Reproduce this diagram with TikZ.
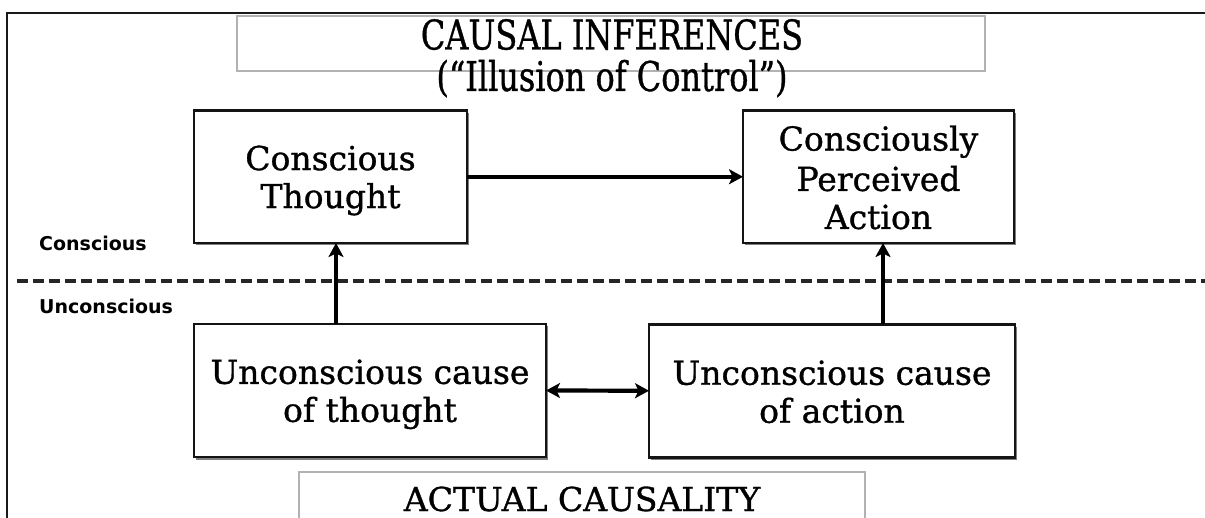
\documentclass[tikz,border=0pt]{standalone}
\usepackage{fontspec}
\setmainfont{DejaVu Serif}
\newfontfamily\boxfont[FakeBold=1.0]{DejaVu Serif}
\newfontfamily\titlefont[FakeStretch=0.78,FakeBold=0.8]{DejaVu Serif}
\newfontfamily\labelfont{DejaVu Sans}
\usetikzlibrary{arrows.meta,shadows}
% line strut: 32pt above, 6pt below the baseline (matches the 38pt line pitch)
\newcommand\ls{\rule[-6pt]{0pt}{38pt}}

\begin{document}
\begin{tikzpicture}[x=1pt,y=-1pt,
  box/.style={draw=black!92, line width=2.8pt, fill=white, inner sep=0pt, outer sep=0pt,
    align=center, font=\boxfont\fontsize{33}{38}\selectfont,
    drop shadow={shadow xshift=1.5pt, shadow yshift=-2.5pt, fill=black, opacity=0.5}},
  graybox/.style={draw=black!30, line width=2pt, fill=white, inner sep=0pt, outer sep=0pt,
    align=center, font=\boxfont\fontsize{33}{38}\selectfont,
    drop shadow={shadow xshift=0.8pt, shadow yshift=-1.5pt, fill=black, opacity=0.2}},
  lab/.style={inner sep=0pt, anchor=west, font=\labelfont\bfseries\fontsize{19}{22}\selectfont},
  tip/.tip={Stealth[length=14pt,width=15pt,inset=3.5pt]},
  arr/.style={line width=4.2pt, -tip},
  biarr/.style={line width=4.2pt, tip-tip}
]
\useasboundingbox (0,0) rectangle (1205,518);
\clip (0,0) rectangle (1205,518);

% outer frame (open to the right and bottom)
\draw[line width=2.4pt, black!90] (7,540) -- (7,13) -- (1230,13);

% heading boxes
\node[graybox, minimum width=748pt, minimum height=55pt] (tb) at (611,43.5) {};
\node[inner sep=0pt, align=center, font=\titlefont\fontsize{41}{41.5}\selectfont] (tt) at (612,58.25)
  {\rule{0pt}{32pt}CAUSAL INFERENCES\\(“Illusion of Control”)\rule[-8pt]{0pt}{8pt}};

\node[graybox, minimum width=566pt, minimum height=52pt] (ac) at (582,498)
  {\ls ACTUAL CAUSALITY};

% conscious / unconscious divider
\draw[line width=4.5pt, black!85, dash pattern=on 11pt off 5pt] (17,281) -- (1205,281);
\node[lab] (lc) at (39,243) {Conscious};
\node[lab] (lu) at (39,306) {Unconscious};

% main boxes
\node[box, minimum width=273pt, minimum height=132.5pt] (ct) at (330.5,176.75)
  {\ls Conscious\\\ls Thought};
\node[box, minimum width=271pt, minimum height=132.5pt] (cpa) at (878.5,176.75)
  {\ls Consciously\\\ls Perceived\\\ls Action};
\node[box, minimum width=352pt, minimum height=133pt] (uct) at (370,390.5)
  {\ls Unconscious cause\\\ls of thought};
\node[box, minimum width=366pt, minimum height=133pt] (uca) at (832,390.75)
  {\ls Unconscious cause\\\ls of action};

% connectors
\draw[arr] (ct.east) -- (cpa.west);
\draw[biarr] (uct.east) -- (uca.west);
\draw[arr] ([xshift=-34pt]uct.north) -- ([xshift=-34pt]uct.north |- ct.south);
\draw[arr] ([xshift=51pt]uca.north) -- ([xshift=51pt]uca.north |- cpa.south);
\end{tikzpicture}
\end{document}
